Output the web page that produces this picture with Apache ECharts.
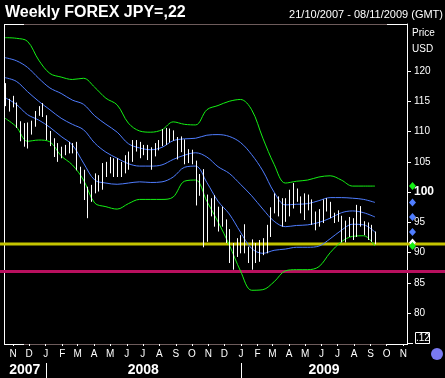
<!DOCTYPE html>
<html><head><meta charset="utf-8">
<script src="https://cdn.jsdelivr.net/npm/echarts@6/dist/echarts.min.js"></script>
<style>html,body{margin:0;padding:0;background:#000;}#c{width:445px;height:378px;}</style>
</head><body><div id="c"></div>
<script>
// ---- data (weekly bars, first bar week of 15/10/2007) ----
const highs = [118.0,115.4,115.9,114.8,111.7,111.4,111.5,111.8,113.4,114.2,
  114.7,112.7,110.1,108.9,108.1,107.5,107.8,108.3,108.1,108.3,
  104.2,103.7,100.9,101.2,103.1,102.8,104.8,105.0,105.8,105.6,
  105.6,105.0,106.1,106.7,108.6,108.6,108.3,107.8,107.8,107.4,
  108.1,108.6,110.4,110.6,110.5,110.2,109.1,109.2,108.7,107.1,
  107.0,105.2,103.0,103.8,99.6,99.0,99.5,97.6,97.6,95.5,
  93.9,91.6,92.4,92.9,94.7,91.0,92.2,91.6,92.1,92.4,
  94.6,97.5,99.8,99.3,99.0,99.0,100.4,101.5,100.6,99.3,
  99.8,99.6,98.8,96.8,97.2,98.8,99.0,98.4,96.6,97.0,
  96.1,95.3,95.9,95.7,97.9,97.7,95.2,95.0,94.6,93.5];
const lows = [114.2,113.3,114.0,110.6,108.4,107.5,107.2,109.5,110.8,112.6,
  112.4,108.6,107.6,105.8,105.0,105.6,106.1,106.4,106.4,103.6,
  101.4,98.7,95.7,98.4,99.8,100.1,100.4,102.5,103.1,102.5,
  102.5,102.5,103.1,103.7,105.0,106.7,105.6,106.1,105.3,103.7,
  105.9,106.9,107.6,107.8,108.2,108.5,105.4,106.6,104.6,104.8,
  104.6,97.8,99.4,90.9,91.8,96.0,94.3,93.5,94.3,91.6,
  88.3,87.2,89.3,89.9,89.9,88.3,87.2,88.3,88.5,89.6,
  89.9,92.6,96.5,96.0,94.3,95.1,96.0,97.3,98.4,96.5,
  95.4,97.0,94.6,93.7,94.3,94.9,96.8,95.7,94.9,95.1,
  91.7,91.7,92.6,92.1,92.6,94.3,92.9,92.1,91.8,91.4];
const lastClose = 91.7;

// band readings every 3 weeks (week index 0,3,...,99)
const bandWeeks = [0,3,6,9,12,15,18,21,24,27,30,33,36,39,42,45,48,51,54,57,60,63,66,69,72,75,78,81,84,87,90,93,96,99];
const greenUpper = [125.5,125.4,124.9,121.8,119.6,119.0,118.6,118.8,117.3,115.5,
  114.4,111.4,110.1,109.9,110.3,111.6,111.2,111.1,113.6,114.3,
  115.0,115.3,113.6,108.9,104.6,101.5,101.8,102.0,102.5,102.7,
  102.0,101.0,101.0,101.0];
const blueUpper = [122.2,121.7,120.6,118.8,117.2,116.3,115.2,114.5,112.6,111.2,
  109.9,108.0,107.3,107.0,107.4,108.5,108.8,108.9,109.4,109.5,
  109.2,108.2,106.2,103.5,100.0,97.9,98.0,98.1,98.6,99.1,
  99.1,99.0,98.8,98.3];
const blueMid = [118.9,118.3,116.6,115.0,113.6,112.2,111.2,110.3,108.1,106.6,
  105.6,104.7,104.3,104.3,104.5,105.4,106.1,106.5,105.8,104.2,
  103.1,101.3,99.4,97.2,95.2,94.3,94.5,94.6,95.0,95.7,
  96.6,96.9,96.6,95.9];
const blueLower = [115.6,114.5,112.8,111.9,110.7,109.2,107.8,104.8,102.0,101.5,
  101.3,101.5,101.7,101.6,101.7,102.5,104.1,104.3,101.6,98.5,
  96.4,93.4,90.7,89.9,90.4,90.6,90.9,90.9,91.1,92.3,
  93.7,94.7,94.6,93.4];
const greenLower = [112.2,110.8,108.4,108.6,108.3,106.0,104.5,102.0,98.2,97.6,
  97.2,98.1,98.8,98.8,98.8,99.2,101.8,102.0,98.5,95.1,
  91.3,87.0,83.8,83.9,85.2,87.0,87.2,87.2,87.7,90.0,
  91.8,92.7,92.8,91.1];

const levelYellow = [91.45];
const levelMagenta = [86.9];
const yTicks = [80,85,90,95,100,105,110,115,120];
const monthLetters = ['J','F','M','A','M','J','J','A','S','O','N','D'];
const yearLabels = ['2007','2008','2009'];
const titleText = 'Weekly FOREX JPY=,22';
const rangeText = '21/10/2007 - 08/11/2009 (GMT)';

// ---- axis helpers ----
const DAY = 86400000;
const xMin = Date.UTC(2007,9,15), xMax = Date.UTC(2009,10,8);
const yMin = 74.93, yMax = 127.76;
const firstBar = Date.UTC(2007,9,17);
const weekDate = i => firstBar + i*7*DAY;
const monthTicks = [];
for (let y=2007, m=10; y<2009 || (y===2009 && m<=10); ) { monthTicks.push(Date.UTC(y,m,1)); m++; if (m>11){m=0;y++;} }
const yearSpans = yearLabels.map(l => { const y=+l; return [Math.max(Date.UTC(y,0,1), xMin), Math.min(Date.UTC(y+1,0,1), xMax)]; });

const GREEN = '#14f014', BLUE = '#4f7dff';
const font = '"Liberation Sans", Arial, sans-serif';

const bandSeries = (arr, color) => ({
  type:'line', data: bandWeeks.map((w,k)=>[weekDate(w), arr[k]]),
  symbol:'none', smooth:0.35, lineStyle:{color, width:1}, z:3, silent:true
});
const levelSeries = (arr, color) => ({
  type:'custom', clip:false, z:2, silent:true,
  data: arr.map(v=>[xMin, v]),
  renderItem:(p,api)=>{ const y=api.coord([api.value(0), api.value(1)])[1];
    return {type:'line', shape:{x1:0,y1:y,x2:api.getWidth(),y2:y}, style:{stroke:color, lineWidth:3}}; }
});

const endVals = [lastClose, greenUpper.at(-1), blueUpper.at(-1), blueMid.at(-1), blueLower.at(-1), greenLower.at(-1)];
const endColors = ['#ffffff', GREEN, BLUE, BLUE, BLUE, GREEN];

const chart = echarts.init(document.getElementById('c'), null, {renderer:'canvas'});
chart.setOption({
  backgroundColor:'#000',
  animation:false,
  grid:{left:4, right:38, top:24, bottom:34},
  xAxis:{type:'value', min:xMin, max:xMax,
    axisLine:{show:false}, splitLine:{show:false},
    axisTick:{show:true, customValues:monthTicks, length:2, lineStyle:{color:'#fff'}},
    axisLabel:{customValues:monthTicks, color:'#fff', fontSize:10, fontFamily:font, margin:5,
      formatter:v=>monthLetters[new Date(v).getUTCMonth()]}},
  yAxis:{type:'value', position:'right', min:yMin, max:yMax,
    splitLine:{show:false},
    axisLine:{show:true, lineStyle:{color:'#fff', width:1}},
    axisTick:{show:true, customValues:yTicks, length:4, lineStyle:{color:'#fff'}},
    axisLabel:{customValues:yTicks, color:'#fff', fontSize:10, fontFamily:font, margin:7,
      formatter:v=> v===100 ? '{b|100}' : String(v),
      rich:{b:{fontWeight:'bold', fontSize:12, color:'#fff', fontFamily:font}}}},
  series:[
    levelSeries(levelMagenta, '#b8105e'),
    levelSeries(levelYellow, '#c4c400'),
    bandSeries(greenUpper, GREEN),
    bandSeries(blueUpper, BLUE),
    bandSeries(blueMid, BLUE),
    bandSeries(blueLower, BLUE),
    bandSeries(greenLower, GREEN),
    {type:'custom', z:5, silent:true,
      data: highs.map((h,i)=>[weekDate(i), lows[i], h]),
      encode:{x:0, y:[1,2]},
      renderItem:(p,api)=>{ const lo=api.coord([api.value(0), api.value(1)]); const hi=api.coord([api.value(0), api.value(2)]);
        const x=Math.round(lo[0])+0.5;
        return {type:'line', shape:{x1:x,y1:lo[1],x2:x,y2:hi[1]}, style:{stroke:'#fff', lineWidth:1}}; }},
    {type:'custom', clip:false, z:6, silent:true,
      data: endVals.map(v=>[xMax, v]),
      renderItem:(p,api)=>{ const c=api.coord([api.value(0), api.value(1)]); const cx=c[0]+5.5, cy=c[1];
        return {type:'polygon', shape:{points:[[cx,cy-4],[cx+3.5,cy],[cx,cy+4],[cx-3.5,cy]]}, style:{fill:endColors[p.dataIndex]}}; }},
    {type:'custom', clip:false, z:6, silent:true,
      data: yearSpans.map(s=>[s[0], yMin, s[1]]),
      encode:{x:[0,2], y:1},
      renderItem:(p,api)=>{ const a=api.coord([api.value(0), yMin]); const b=api.coord([api.value(2), yMin]);
        const children=[{type:'text', style:{text:yearLabels[p.dataIndex], x:(a[0]+b[0])/2, y:a[1]+26, align:'center', verticalAlign:'middle',
          fill:'#fff', font:'bold 14px "Liberation Sans Narrow", "Arial Narrow", Arial, sans-serif'}}];
        if (api.value(0) > xMin) { const x=Math.round(a[0])+0.5; children.push({type:'line', shape:{x1:x,y1:a[1]+19,x2:x,y2:a[1]+34}, style:{stroke:'#fff', lineWidth:1}}); }
        return {type:'group', children}; }}
  ],
  graphic:[
    {type:'text', left:5, top:5, style:{text:titleText, fill:'#fff', font:'bold 16px '+font}},
    {type:'text', right:2, top:9, style:{text:rangeText, fill:'#fff', font:'11px '+font}},
    {type:'text', left:412, top:28, style:{text:'Price', fill:'#fff', font:'10px '+font}},
    {type:'text', left:412, top:44, style:{text:'USD', fill:'#fff', font:'10px '+font}},
    {type:'line', shape:{x1:4.5,y1:24,x2:4.5,y2:345}, style:{stroke:'#fff', lineWidth:1}},
    {type:'line', shape:{x1:4,y1:24.5,x2:24,y2:24.5}, style:{stroke:'#fff', lineWidth:1}},
    {type:'line', shape:{x1:24,y1:24.5,x2:387,y2:24.5}, style:{stroke:'#6e5c5c', lineWidth:1}},
    {type:'line', shape:{x1:387,y1:24.5,x2:408,y2:24.5}, style:{stroke:'#fff', lineWidth:1}},
    {type:'line', shape:{x1:4,y1:344.5,x2:24,y2:344.5}, style:{stroke:'#fff', lineWidth:1}},
    {type:'line', shape:{x1:24,y1:344.5,x2:387,y2:344.5}, style:{stroke:'#6e5c5c', lineWidth:1}},
    {type:'line', shape:{x1:387,y1:344.5,x2:408,y2:344.5}, style:{stroke:'#fff', lineWidth:1}},
    {type:'line', shape:{x1:407,y1:343.5,x2:413,y2:343.5}, style:{stroke:'#fff', lineWidth:1}},
    {type:'rect', shape:{x:415.5,y:332.5,width:14,height:11}, style:{stroke:'#fff', fill:'none', lineWidth:1}},
    {type:'text', left:416, top:333, style:{text:'.12', fill:'#fff', font:'10px '+font}},
    {type:'circle', shape:{cx:437, cy:354, r:6}, style:{fill:'#7a7af2'}}
  ]
});
</script></body></html>
